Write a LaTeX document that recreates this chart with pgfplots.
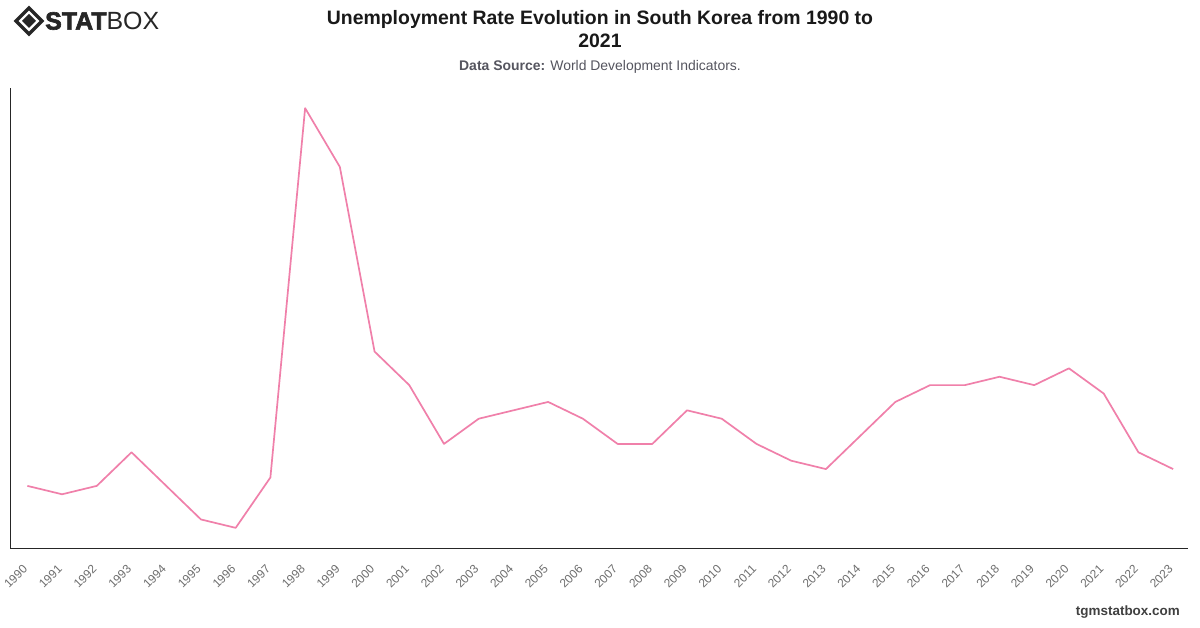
\documentclass[border=0pt]{standalone}
\usepackage{pgfplots}
\pgfplotsset{compat=1.18}
\usepackage{fontspec}
\setmainfont{Liberation Sans}
\newfontfamily\logoheavy[FakeBold=2.5]{Liberation Sans Bold}
\definecolor{linepink}{RGB}{240,128,170}
\definecolor{ticklab}{RGB}{110,110,110}
\definecolor{subgray}{RGB}{85,85,95}
\definecolor{titlecol}{RGB}{25,25,25}
\pgfplotstableread{
year rate
1990 2.4
1991 2.3
1992 2.4
1993 2.8
1994 2.4
1995 2.0
1996 1.9
1997 2.5
1998 6.9
1999 6.2
2000 4.0
2001 3.6
2002 2.9
2003 3.2
2004 3.3
2005 3.4
2006 3.2
2007 2.9
2008 2.9
2009 3.3
2010 3.2
2011 2.9
2012 2.7
2013 2.6
2014 3.0
2015 3.4
2016 3.6
2017 3.6
2018 3.7
2019 3.6
2020 3.8
2021 3.5
2022 2.8
2023 2.6
}\datatable
\begin{document}
\begin{tikzpicture}[x=1bp,y=1bp]
\path[fill=white] (0,0) rectangle (1200,628);
% logo
\begin{scope}[shift={(29,607)}]
\draw[line width=3.4bp,black!85] (0,13) -- (13,0) -- (0,-13) -- (-13,0) -- cycle;
\fill[black!85] (0,7) -- (7,0) -- (0,-7) -- (-7,0) -- cycle;
\end{scope}
\node[anchor=west,inner sep=0] at (45,607) {\fontsize{25}{25}\selectfont\color{black!85}{\logoheavy STAT}BOX};
% titles
\node[anchor=center,inner sep=0,align=center] at (600,609) {\fontsize{19.5}{22}\selectfont\bfseries\color{titlecol}Unemployment Rate Evolution in South Korea from 1990 to};
\node[anchor=center,inner sep=0] at (600,587) {\fontsize{19.5}{22}\selectfont\bfseries\color{titlecol}2021};
\node[anchor=center,inner sep=0] at (600,561) {\fontsize{14}{16}\selectfont\color{subgray}\textbf{Data Source:} World Development Indicators.};
\node[anchor=east,inner sep=0] at (1180,16) {\fontsize{13.5}{15}\selectfont\bfseries\color{black!75}tgmstatbox.com};
\begin{axis}[
  at={(10bp,80bp)}, anchor=south west,
  width=1178bp, height=460bp, scale only axis,
  xmin=1989.5, xmax=2023.43,
  ymin=1.66, ymax=7.14,
  axis x line*=bottom, axis y line*=left,
  axis line style={black!85, line width=0.9bp},
  xtick={1990,...,2023},
  ytick=\empty,
  major tick length=0,
  xticklabel style={rotate=45, anchor=east, inner sep=0, yshift=-12bp, xshift=-15bp, font=\fontsize{12}{12}\selectfont, text=ticklab},
  /pgf/number format/assume math mode=true,
  xticklabel={\pgfmathprintnumber[1000 sep={}]{\tick}},
  clip=false,
]
\addplot[linepink, line width=1.7bp, line join=round, no markers] table[x=year,y=rate] {\datatable};
\end{axis}
\end{tikzpicture}
\end{document}
